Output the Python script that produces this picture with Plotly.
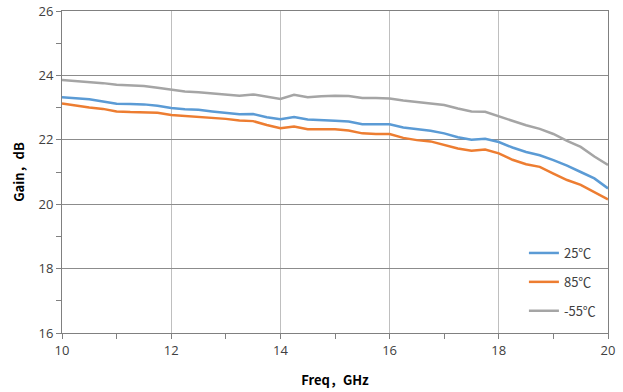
import plotly.graph_objects as go

freq = [10.0, 10.25, 10.5, 10.75, 11.0, 11.25, 11.5, 11.75, 12.0, 12.25, 12.5, 12.75,
        13.0, 13.25, 13.5, 13.75, 14.0, 14.25, 14.5, 14.75, 15.0, 15.25, 15.5, 15.75,
        16.0, 16.25, 16.5, 16.75, 17.0, 17.25, 17.5, 17.75, 18.0, 18.25, 18.5, 18.75,
        19.0, 19.25, 19.5, 19.75, 20.0]

gain_25 = [23.32, 23.29, 23.26, 23.19, 23.12, 23.11, 23.10, 23.06, 22.99, 22.95, 22.93, 22.88,
           22.83, 22.79, 22.80, 22.70, 22.64, 22.71, 22.63, 22.60, 22.59, 22.57, 22.48, 22.48,
           22.48, 22.38, 22.33, 22.28, 22.20, 22.08, 22.00, 22.03, 21.93, 21.76, 21.62, 21.52,
           21.37, 21.20, 21.00, 20.80, 20.49]

gain_85 = [23.13, 23.06, 23.00, 22.96, 22.88, 22.86, 22.86, 22.84, 22.77, 22.74, 22.73, 22.70,
           22.65, 22.60, 22.58, 22.46, 22.36, 22.41, 22.33, 22.33, 22.33, 22.29, 22.20, 22.18,
           22.18, 22.06, 21.99, 21.95, 21.83, 21.73, 21.66, 21.70, 21.58, 21.38, 21.24, 21.16,
           20.95, 20.75, 20.60, 20.37, 20.15]

gain_m55 = [23.86, 23.83, 23.79, 23.76, 23.71, 23.70, 23.67, 23.62, 23.56, 23.50, 23.48, 23.45,
            23.40, 23.37, 23.41, 23.33, 23.27, 23.40, 23.32, 23.35, 23.37, 23.36, 23.30, 23.30,
            23.28, 23.22, 23.18, 23.13, 23.08, 22.97, 22.88, 22.87, 22.73, 22.58, 22.45, 22.34,
            22.18, 21.97, 21.78, 21.48, 21.22]

series_names = ["25℃", "85℃", "-55℃"]
series_values = [gain_25, gain_85, gain_m55]
series_colors = ["#5B9BD5", "#ED7D31", "#A5A5A5"]

fig = go.Figure()
for i, (name, vals, col) in enumerate(zip(series_names, series_values, series_colors)):
    fig.add_trace(go.Scatter(x=freq, y=vals, mode="lines", name=name,
                             legendgroup=str(i),
                             line=dict(color=col, width=2.5)))

tickfont = dict(family="Open Sans, DejaVu Sans, sans-serif", size=13, color="#404040")
titlefont = dict(family="Noto Sans CJK SC, sans-serif", size=13, color="#000000")

fig.update_layout(
    width=623, height=392,
    margin=dict(l=62, r=15, t=11, b=59, autoexpand=False),
    paper_bgcolor="white", plot_bgcolor="white",
    showlegend=True,
    legend=dict(x=0.846, y=0.295, xanchor="left", yanchor="top",
                bgcolor="rgba(0,0,0,0)", tracegroupgap=9,
                font=dict(family="Noto Sans CJK SC, sans-serif", size=13, color="#404040"),
                itemwidth=30),
    xaxis=dict(range=[10, 20], dtick=2, tick0=10, showgrid=True, gridcolor="#BFBFBF", gridwidth=1,
               zeroline=False, showline=True, linecolor="#808080", linewidth=1, mirror=True,
               ticks="outside", ticklen=5, tickcolor="#808080", automargin=False,
               minor=dict(dtick=1, ticks="outside", ticklen=5, tickcolor="#808080", showgrid=False),
               tickfont=tickfont,
               title=dict(text="<b>Freq，GHz</b>", font=titlefont, standoff=18)),
    yaxis=dict(range=[16, 26], dtick=2, tick0=16, showgrid=True, gridcolor="#8C8C8C", gridwidth=1,
               zeroline=False, showline=True, linecolor="#808080", linewidth=1, mirror=True,
               ticks="outside", ticklen=5, tickcolor="#808080", automargin=False,
               minor=dict(dtick=1, ticks="outside", ticklen=5, tickcolor="#808080", showgrid=False),
               tickfont=tickfont,
               title=dict(text="<b>Gain，dB</b>", font=titlefont, standoff=10)),
)

# remove the page's default 8px body margin so the figure sits at the window origin
fig.write_html("out.html", config={"displayModeBar": False},
               post_script="document.body.style.margin='0';")
